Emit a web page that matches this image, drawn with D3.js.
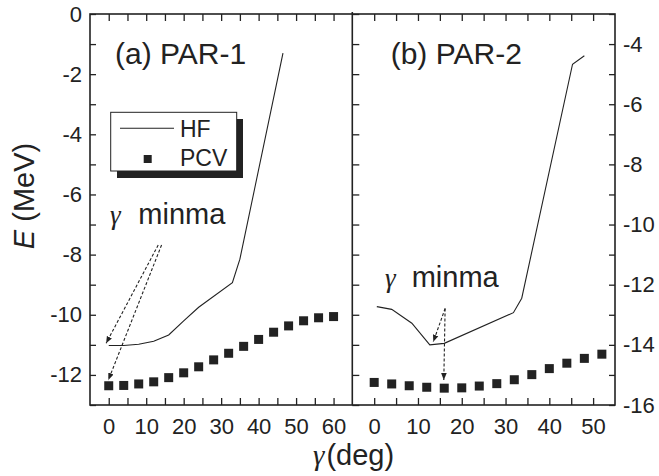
<!DOCTYPE html>
<html>
<head>
<meta charset="utf-8">
<script src="https://cdn.jsdelivr.net/npm/d3@7"></script>
<style>
    body { margin: 0; background: #fff; }
    text { font-family: "Liberation Sans", Arial, sans-serif; fill: #222; }
    .greek { font-family: "Liberation Serif", "Times New Roman", serif; font-style: italic; }
</style>
</head>
<body>
<div id="chart-area"></div>
<script>
// HF curve and PCV points, panel (a) PAR-1
const hfGammaA = [0, 4, 8, 12, 16, 20, 24, 33, 35, 46.5];
const hfEnergyA = [-11.02, -11.02, -10.98, -10.88, -10.67, -10.2, -9.75, -8.93, -8.15, -1.3];
const pcvGammaA = [0, 4, 8, 12, 16, 20, 24, 28, 32, 36, 40, 44, 48, 52, 56, 60];
const pcvEnergyA = [-12.36, -12.35, -12.30, -12.23, -12.09, -11.93, -11.73, -11.50,
    -11.28, -11.05, -10.82, -10.58, -10.37, -10.2, -10.1, -10.06];

// HF curve and PCV points, panel (b) PAR-2
const hfGammaB = [0.6, 4, 8.6, 12.7, 16, 31.8, 33.7, 45.3, 48];
const hfEnergyB = [-12.73, -12.82, -13.28, -14.0, -13.95, -12.93, -12.45, -4.67, -4.39];
const pcvGammaB = [0, 4, 8, 12, 16, 20, 24, 28, 32, 36, 40, 44, 48, 52];
const pcvEnergyB = [-15.25, -15.30, -15.36, -15.41, -15.44, -15.43, -15.37, -15.29,
    -15.16, -14.99, -14.79, -14.61, -14.45, -14.31];

// tick labels
const xLabelsA = [0, 10, 20, 30, 40, 50, 60];
const xLabelsB = [0, 10, 20, 30, 40, 50];
const yLabelsA = [0, -2, -4, -6, -8, -10, -12];
const yLabelsB = [-4, -6, -8, -10, -12, -14, -16];

// "gamma minma" arrows: [gamma0, E0, gamma1, E1]
const arrowsA = [[13.2, -7.68, -0.7, -10.95], [14.1, -7.68, -0.1, -12.17]];
const arrowsB = [[16.2, -12.79, 13.5, -13.9], [16.2, -12.79, 15.9, -15.17]];

const W = 659, H = 476;
const yTop = 14, yBottom = 405;
const xLeft = 90, xMid = 352.3, xRight = 615;
const ink = '#222';

const svg = d3.select('#chart-area')
    .append('svg')
    .attr('width', W)
    .attr('height', H);

const defs = svg.append('defs');
defs.append('marker')
    .attr('id', 'head')
    .attr('viewBox', '0 0 10 10')
    .attr('refX', 10)
    .attr('refY', 5)
    .attr('markerWidth', 7)
    .attr('markerHeight', 7)
    .attr('markerUnits', 'userSpaceOnUse')
    .attr('orient', 'auto')
    .append('path')
    .attr('d', 'M0,1 L10,5 L0,9 Z')
    .attr('fill', ink);

// Scales
const xA = d3.scaleLinear().domain([-5, 65]).range([xLeft, xMid]);
const xB = d3.scaleLinear().domain([-5, 55]).range([xMid, xRight]);
const yA = d3.scaleLinear().domain([-13, 0]).range([yBottom, yTop]);
const yB = d3.scaleLinear().domain([-16, -3]).range([yBottom, yTop]);

function styleAxis(g) {
    g.select('.domain').remove();
    g.selectAll('line').attr('stroke', ink).attr('stroke-width', 1.3);
    g.selectAll('text').attr('font-size', '22px').attr('fill', ink)
        .style('font-family', '"Liberation Sans", Arial, sans-serif');
}

function drawPanel(x, y, xLabels, yLabels, side) {
    const xMinor = d3.range(x.domain()[0] + 5, x.domain()[1], 5);
    const yMinor = d3.range(y.domain()[0], y.domain()[1] + 0.5, 1);

    // bottom axis
    svg.append('g')
        .attr('transform', `translate(0, ${yBottom})`)
        .call(d3.axisBottom(x).tickValues(xMinor).tickSize(-7).tickSizeOuter(0)
            .tickPadding(13)
            .tickFormat(d => xLabels.includes(d) ? String(d) : ''))
        .call(styleAxis);

    // top axis
    svg.append('g')
        .attr('transform', `translate(0, ${yTop})`)
        .call(d3.axisTop(x).tickValues(xMinor).tickSize(-7).tickSizeOuter(0)
            .tickFormat(''))
        .call(styleAxis);

    // vertical axis with labels
    if (side === 'left') {
        svg.append('g')
            .attr('transform', `translate(${xLeft}, 0)`)
            .call(d3.axisLeft(y).tickValues(yMinor).tickSize(-6).tickSizeOuter(0)
                .tickPadding(8)
                .tickFormat(d => yLabels.includes(d) ? String(d) : ''))
            .call(styleAxis);
    } else {
        svg.append('g')
            .attr('transform', `translate(${xRight}, 0)`)
            .call(d3.axisRight(y).tickValues(yMinor).tickSize(-6).tickSizeOuter(0)
                .tickPadding(8)
                .tickFormat(d => yLabels.includes(d) ? String(d) : ''))
            .call(styleAxis);
        // ticks on the shared edge
        svg.append('g')
            .attr('transform', `translate(${xMid}, 0)`)
            .call(d3.axisRight(y).tickValues(yMinor).tickSize(7).tickSizeOuter(0)
                .tickFormat(''))
            .call(styleAxis);
    }
}

drawPanel(xA, yA, xLabelsA, yLabelsA, 'left');
drawPanel(xB, yB, xLabelsB, yLabelsB, 'right');

// frames
svg.append('rect')
    .attr('x', xLeft).attr('y', yTop)
    .attr('width', xRight - xLeft).attr('height', yBottom - yTop)
    .attr('fill', 'none').attr('stroke', ink).attr('stroke-width', 1.6);
svg.append('line')
    .attr('x1', xMid).attr('x2', xMid).attr('y1', yTop - 2).attr('y2', yBottom)
    .attr('stroke', ink).attr('stroke-width', 1.6);

// data
function drawSeries(x, y, hfG, hfE, pcvG, pcvE) {
    const hf = hfG.map((g, i) => ({g: g, e: hfE[i]}));
    const pcv = pcvG.map((g, i) => ({g: g, e: pcvE[i]}));

    svg.append('path')
        .datum(hf)
        .attr('d', d3.line().x(d => x(d.g)).y(d => y(d.e)))
        .attr('fill', 'none')
        .attr('stroke', ink)
        .attr('stroke-width', 1.1);

    svg.append('g').selectAll('rect')
        .data(pcv)
        .enter()
        .append('rect')
        .attr('x', d => x(d.g) - 4.5)
        .attr('y', d => y(d.e) - 4.5)
        .attr('width', 9)
        .attr('height', 9)
        .attr('fill', ink);
}

drawSeries(xA, yA, hfGammaA, hfEnergyA, pcvGammaA, pcvEnergyA);
drawSeries(xB, yB, hfGammaB, hfEnergyB, pcvGammaB, pcvEnergyB);

// dashed arrows
function drawArrows(x, y, arrows) {
    svg.append('g').selectAll('line')
        .data(arrows)
        .enter()
        .append('line')
        .attr('x1', d => x(d[0]))
        .attr('y1', d => y(d[1]))
        .attr('x2', d => x(d[2]))
        .attr('y2', d => y(d[3]))
        .attr('stroke', ink)
        .attr('stroke-width', 1.1)
        .attr('stroke-dasharray', '3,2')
        .attr('marker-end', 'url(#head)');
}

drawArrows(xA, yA, arrowsA);
drawArrows(xB, yB, arrowsB);

// panel titles
svg.append('text').attr('x', 115).attr('y', 63.5)
    .attr('font-size', '30px').text('(a) PAR-1');
svg.append('text').attr('x', 390.7).attr('y', 63.5)
    .attr('font-size', '30px').text('(b) PAR-2');

// gamma minma labels
function minmaLabel(xg, xt, yb) {
    svg.append('text').attr('class', 'greek')
        .attr('x', xg).attr('y', yb).attr('font-size', '27px').text('γ');
    svg.append('text')
        .attr('x', xt).attr('y', yb).attr('font-size', '29px').text('minma');
}
minmaLabel(110, 138.3, 224.3);
minmaLabel(385, 411.7, 286.7);

// legend
svg.append('rect')
    .attr('x', 117).attr('y', 119)
    .attr('width', 126).attr('height', 59)
    .attr('fill', ink);
svg.append('rect')
    .attr('x', 110.7).attr('y', 112.3)
    .attr('width', 126).attr('height', 58.7)
    .attr('fill', '#fff').attr('stroke', ink).attr('stroke-width', 1);
svg.append('line')
    .attr('x1', 120).attr('x2', 174).attr('y1', 128.3).attr('y2', 128.3)
    .attr('stroke', ink).attr('stroke-width', 1.1);
svg.append('rect')
    .attr('x', 143.7).attr('y', 155).attr('width', 8).attr('height', 8)
    .attr('fill', ink);
svg.append('text').attr('x', 180).attr('y', 136.7)
    .attr('font-size', '23px').text('HF');
svg.append('text').attr('x', 180).attr('y', 165.7)
    .attr('font-size', '23px').text('PCV');

// axis titles
const yTitle = svg.append('text')
    .attr('transform', 'translate(33.5, 196) rotate(-90)')
    .attr('text-anchor', 'middle')
    .attr('font-size', '29px');
yTitle.append('tspan').attr('font-style', 'italic').text('E');
yTitle.append('tspan').text(' (MeV)');

const xTitle = svg.append('text')
    .attr('x', 313).attr('y', 465)
    .attr('font-size', '29px');
xTitle.append('tspan').attr('class', 'greek').text('γ');
xTitle.append('tspan').attr('dx', 2).text('(deg)');
</script>
</body>
</html>
